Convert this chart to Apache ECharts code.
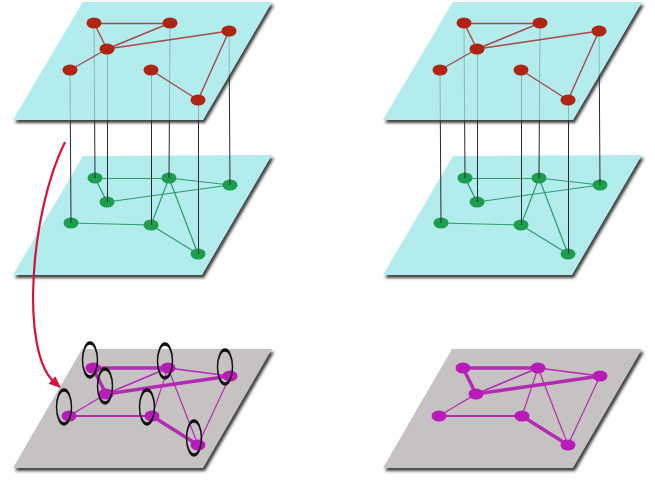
<!DOCTYPE html>
<html><head><meta charset="utf-8">
<script src="https://cdn.jsdelivr.net/npm/echarts@6/dist/echarts.min.js"></script>
<style>html,body{margin:0;padding:0;background:#fff}#c{width:655px;height:480px}</style>
</head><body><div id="c"></div>
<script>
// horizontal offsets of the two panels
const panelShift = [0, 370];
// plane corners (x, y in page pixels)
const topPlane = [[83,2],[272,2],[203,120],[13,120]];
const midPlane = [[83,156],[272,155],[202,275],[13,275]];
const lowPlane = [[82,349],[272,349],[203,468],[13,468]];
// node positions per layer
const redNodes = [[94,23],[170,23],[229,31],[107,49],[70,70],[151,70],[198,100]];
const greenNodes = [[95,178],[169,178],[230,185],[107,202],[71,223],[151,225],[198,254]];
const magentaNodes = [[93,368],[168,368],[230,376],[106,394],[69,416],[152,416],[198,445]];
// edges
const redEdges = [[0,1],[0,3],[1,3],[3,2],[3,4],[2,6],[5,6]];
const greenEdges = [[0,1],[0,3],[3,2],[1,2],[1,5],[1,6],[4,5],[5,6]];
const magentaEdges = [[0,1,3.5],[0,3,3.5],[3,2,3.5],[1,2,1.4],[3,1,1.4],[4,3,1.4],[4,5,2],[1,5,1.2],[1,6,1.2],[5,6,3.5],[2,6,1.2]];
// rings around the left aggregated nodes
const ringCenters = [[90,360],[165,361],[225,367],[105,386],[64,407],[147,407],[194,438]];
// arrow: start, control 1, control 2, tip
const arrowPath = [[65,142],[30,212],[20,352],[61,388]];

function shiftPt(p, s){ return [p[0]+s, p[1]]; }
function planeData(corners){ return panelShift.map(s => corners.map(p => shiftPt(p,s)).flat()); }
function edgeData(nodes, edges){
  const out = [];
  panelShift.forEach(s => edges.forEach(e => {
    const item = {coords:[shiftPt(nodes[e[0]],s), shiftPt(nodes[e[1]],s)]};
    if (e.length > 2) item.lineStyle = {width: e[2]};
    out.push(item);
  }));
  return out;
}
function nodeData(nodes){ const out=[]; panelShift.forEach(s => nodes.forEach(p => out.push(shiftPt(p,s)))); return out; }
const connectors = [];
panelShift.forEach(s => redNodes.forEach((p,i) => connectors.push({coords:[shiftPt(p,s), shiftPt(greenNodes[i],s)]})));

function planeSeries(corners, fill, opacity, z, shadow){
  return {
    type:'custom', z:z, silent:true, data: planeData(corners),
    renderItem:(params, api) => {
      const pts=[]; for(let i=0;i<4;i++) pts.push(api.coord([api.value(2*i), api.value(2*i+1)]));
      const style = {fill:fill, opacity:opacity};
      if (shadow) Object.assign(style, {shadowBlur:3, shadowOffsetX:2, shadowOffsetY:3, shadowColor:'rgba(30,30,30,0.85)'});
      return {type:'polygon', shape:{points:pts}, style:style};
    }
  };
}
function linesSeries(data, color, width, z){
  return {type:'lines', coordinateSystem:'cartesian2d', z:z, silent:true, data:data, lineStyle:{color:color, width:width, opacity:1, curveness:0}};
}
function nodeSeries(nodes, color, z){
  return {type:'scatter', z:z, silent:true, data:nodeData(nodes), symbol:'circle', symbolSize:[15,11], itemStyle:{color:color, opacity:1}};
}

const chart = echarts.init(document.getElementById('c'), null, {renderer:'canvas'});
chart.setOption({
  animation:false,
  grid:{left:0,right:0,top:0,bottom:0},
  xAxis:{type:'value', min:0, max:655, show:false},
  yAxis:{type:'value', min:0, max:480, inverse:true, show:false},
  series:[
    planeSeries(midPlane, '#b3ecec', 1, 1, true),
    planeSeries(lowPlane, '#c6c2c2', 1, 1, true),
    linesSeries(edgeData(greenNodes, greenEdges), '#2c9c6c', 1.2, 2),
    nodeSeries(greenNodes, '#1c9e4e', 3),
    planeSeries(topPlane, '#b3ecec', 1, 3, true),
    linesSeries(connectors, '#2a2a2a', 1, 4),
    planeSeries(topPlane, '#b3ecec', 0.72, 5, false),
    linesSeries(edgeData(redNodes, redEdges), '#a84848', 1.4, 6),
    nodeSeries(redNodes, '#b02412', 7),
    linesSeries(edgeData(magentaNodes, magentaEdges), '#b22cb2', 1.4, 3),
    nodeSeries(magentaNodes, '#b81cb8', 4),
    {type:'scatter', z:5, silent:true, data:ringCenters, symbol:'circle', symbolSize:[15,34],
     itemStyle:{color:'rgba(0,0,0,0)', borderColor:'#111', borderWidth:2.2, opacity:1}},
    {type:'custom', z:8, silent:true, data:[arrowPath.flat()],
     renderItem:(params, api) => {
       const p=[]; for(let i=0;i<4;i++) p.push(api.coord([api.value(2*i), api.value(2*i+1)]));
       const tip=p[3], c2=p[2];
       const dx=tip[0]-c2[0], dy=tip[1]-c2[1], L=Math.hypot(dx,dy), ux=dx/L, uy=dy/L;
       const hl=12, hw=5;
       const bx=tip[0]-ux*hl, by=tip[1]-uy*hl;
       return {type:'group', children:[
         {type:'bezierCurve', shape:{x1:p[0][0],y1:p[0][1],cpx1:p[1][0],cpy1:p[1][1],cpx2:p[2][0],cpy2:p[2][1],x2:bx+ux*3,y2:by+uy*3},
          style:{stroke:'#d4123c', lineWidth:2.2, fill:null}},
         {type:'polygon', shape:{points:[tip,[bx-uy*hw, by+ux*hw],[bx+uy*hw, by-ux*hw]]}, style:{fill:'#d4123c'}}
       ]};
     }}
  ]
});
</script></body></html>
